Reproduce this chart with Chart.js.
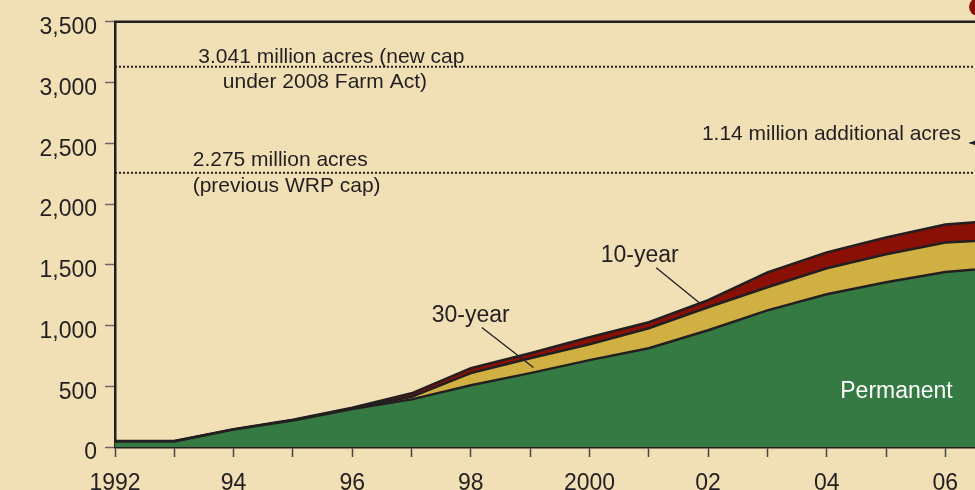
<!DOCTYPE html>
<html><head><meta charset="utf-8">
<script src="https://cdn.jsdelivr.net/npm/chart.js@4/dist/chart.umd.min.js"></script>
<style>html,body{margin:0;padding:0;background:#f1dfb5;}#wrap{width:975px;height:490px;position:relative;}</style>
</head><body><div id="wrap"><canvas id="c" width="975" height="490"></canvas></div>
<script>
// ---- data (thousand acres) ----
const years      = [1992, 1993, 1994, 1995, 1996, 1997, 1998, 1999, 2000, 2001, 2002, 2003, 2004, 2005, 2006, 2007];
const permanent  = [45,   45,   143,  218,  312,  392,  509,  608,  715,  813,  961,  1125, 1257, 1356, 1440, 1484];
const thirtyYear = [2,    2,    2,    3,    5,    22,   99,   123,  131,  165,  189,  190,  214,  230,  244,  222];
const tenYear    = [2,    2,    2,    3,    6,    28,   41,   41,   58,   49,   58,   123,  131,  139,  148,  164];
const tickYears  = [1992, 1993, 1994, 1995, 1996, 1997, 1998, 1999, 2000, 2001, 2002, 2003, 2004, 2005, 2006];
const capLevels  = [3130, 2257];   // drawn positions of the two acreage caps
const seriesNames = ['Permanent', '30-year', '10-year'];

const INK = '#231f20';
const FONT = '"Liberation Sans", Arial, sans-serif';

const toPts = arr => years.map((y, i) => ({x: y, y: arr[i]}));

const datasets = [
  {label: seriesNames[0], data: toPts(permanent),  backgroundColor: '#357a43', fill: 'origin', stack: 'area'},
  {label: seriesNames[1], data: toPts(thirtyYear), backgroundColor: '#d1b043', fill: '-1', stack: 'area'},
  {label: seriesNames[2], data: toPts(tenYear),    backgroundColor: '#8a0f05', fill: '-1', stack: 'area'}
].map(d => Object.assign(d, {borderColor: INK, borderWidth: 2.5, pointRadius: 0, tension: 0}));

capLevels.forEach((v, i) => datasets.push({
  label: 'cap' + i, stack: 'cap' + i,
  data: [{x: years[0], y: v}, {x: years[years.length - 1], y: v}],
  borderColor: INK, borderWidth: 2, borderDash: [2, 2], pointRadius: 0, fill: false
}));

// text notes, anchored in data coordinates
const notes = [
  {text: '3.041 million acres (new cap', x: 1993.405, y: 3161, size: 21},
  {text: 'under 2008 Farm Act)',          x: 1993.817, y: 2955, size: 21},
  {text: '2.275 million acres',           x: 1993.31,  y: 2317, size: 21},
  {text: '(previous WRP cap)',            x: 1993.31,  y: 2095, size: 21},
  {text: '1.14 million additional acres', x: 2001.895, y: 2526, size: 21},
  {text: '10-year',   x: 2000.19,  y: 1520, size: 23},
  {text: '30-year',   x: 1997.341, y: 1027, size: 23},
  {text: 'Permanent', x: 2004.228, y: 403,  size: 23, color: '#ffffff'}
];
const leaders = [
  [2001.125, 1476, 2001.867, 1181],
  [1998.185, 983, 1999.055, 655]
];
const arrowTip = {x: 2006.404, y: 2503};

const decor = {
  id: 'decor',
  beforeDraw(chart) {
    const c = chart.ctx;
    c.save(); c.fillStyle = '#f1dfb5'; c.fillRect(0, 0, chart.width, chart.height); c.restore();
  },
  afterDatasetsDraw(chart) {
    const c = chart.ctx, xs = chart.scales.x, ys = chart.scales.y, a = chart.chartArea;
    c.save();
    // top frame
    c.strokeStyle = INK; c.lineWidth = 2.5;
    c.beginPath(); c.moveTo(a.left - 1, a.top); c.lineTo(a.right, a.top); c.stroke();
    // notes
    c.textBaseline = 'alphabetic'; c.textAlign = 'left';
    notes.forEach(n => {
      c.font = n.size + 'px ' + FONT;
      c.fillStyle = n.color || INK;
      c.fillText(n.text, xs.getPixelForValue(n.x), ys.getPixelForValue(n.y));
    });
    // leader lines
    c.strokeStyle = INK; c.lineWidth = 1.3;
    leaders.forEach(l => {
      c.beginPath();
      c.moveTo(xs.getPixelForValue(l[0]), ys.getPixelForValue(l[1]));
      c.lineTo(xs.getPixelForValue(l[2]), ys.getPixelForValue(l[3]));
      c.stroke();
    });
    // arrow toward the right
    const tx = xs.getPixelForValue(arrowTip.x), ty = ys.getPixelForValue(arrowTip.y);
    c.lineWidth = 1.3;
    c.beginPath(); c.moveTo(tx, ty); c.lineTo(a.right, ty); c.stroke();
    c.fillStyle = INK;
    c.beginPath(); c.moveTo(tx, ty); c.lineTo(tx + 7, ty - 3); c.lineTo(tx + 7, ty + 3); c.closePath(); c.fill();
    // red marker at the top-right corner
    c.fillStyle = '#8a0f05';
    c.beginPath(); c.arc(a.right + 3, a.top - 15, 9, 0, Math.PI * 2); c.fill();
    c.restore();
  }
};

new Chart(document.getElementById('c'), {
  type: 'line',
  data: {datasets},
  plugins: [decor],
  options: {
    responsive: false, animation: false,
    layout: {padding: {top: 21, right: 0, bottom: 0, left: 0}},
    plugins: {legend: {display: false}, tooltip: {enabled: false}},
    scales: {
      x: {
        type: 'linear', min: 1992, max: 2006.5,
        afterBuildTicks: s => { s.ticks = tickYears.map(v => ({value: v})); },
        afterFit: s => { s.height = 43; },
        ticks: {
          autoSkip: false, maxRotation: 0, padding: 13, color: INK,
          font: {family: FONT, size: 23},
          callback: v => (v % 2 ? '' : (v === 1992 || v === 2000 ? String(v) : String(v).slice(2)))
        },
        grid: {drawOnChartArea: false, tickLength: 10, tickColor: '#4a4440', tickWidth: 1.5},
        border: {color: INK, width: 2.5}
      },
      y: {
        stacked: true, min: 0, max: 3500,
        afterFit: s => { s.width = 115; },
        ticks: {
          stepSize: 500, padding: 8, labelOffset: 6, color: INK,
          font: {family: FONT, size: 23},
          callback: v => v.toLocaleString('en-US')
        },
        grid: {drawOnChartArea: false, tickLength: 10, tickColor: '#6e6862', tickWidth: 1.5},
        border: {color: INK, width: 2.5}
      }
    }
  }
});
</script>
</body></html>
